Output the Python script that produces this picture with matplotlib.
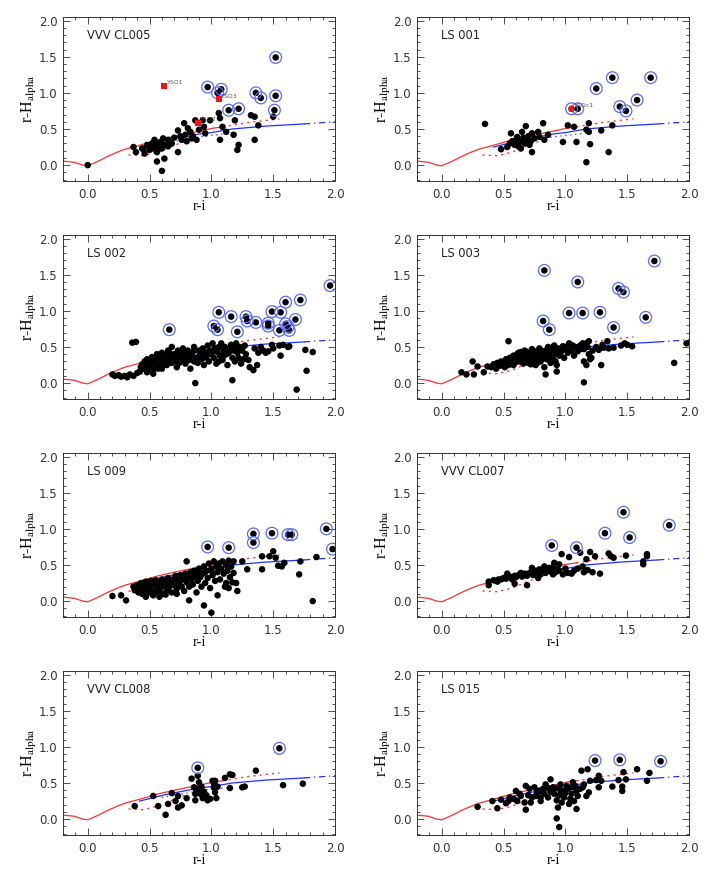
import matplotlib
matplotlib.use("Agg")
import matplotlib.pyplot as plt
from matplotlib.ticker import MultipleLocator

# ---------------- tracks ----------------
ms_x = [-0.2, -0.11, -0.04, 0.0, 0.08, 0.16, 0.24, 0.30, 0.41, 0.57, 0.73, 0.90, 1.01, 1.09]
ms_y = [0.055, 0.04, 0.0, -0.01, 0.05, 0.12, 0.18, 0.22, 0.27, 0.35, 0.41, 0.47, 0.51, 0.53]
ms_ext_x = [1.09, 1.30, 1.55]
ms_ext_y = [0.53, 0.59, 0.64]
red_low_x = [0.33, 0.45, 0.57, 0.68, 0.80]
red_low_y = [0.14, 0.13, 0.18, 0.26, 0.34]
blue_x = [0.42, 0.63, 0.90, 1.00, 1.17, 1.44, 1.75]
blue_y = [0.25, 0.34, 0.43, 0.45, 0.50, 0.54, 0.57]
blue_ext_x = [1.75, 2.0]
blue_ext_y = [0.57, 0.60]
blue_low_x = [0.60, 0.90, 1.20]
blue_low_y = [0.30, 0.39, 0.45]

# ---------------- panels ----------------
titles = ["VVV CL005", "LS 001", "LS 002", "LS 003", "LS 009", "VVV CL007", "VVV CL008", "LS 015"]

cl005_x = [0.0, 0.37, 0.39, 0.44, 0.46, 0.48, 0.50, 0.52, 0.53, 0.54, 0.56, 0.57, 0.59, 0.60, 0.61,
           0.56, 0.60, 0.62, 0.65, 0.68, 0.73, 0.73, 0.78, 0.79, 0.81, 0.83, 0.84, 0.87, 0.90, 0.93,
           0.94, 0.95, 0.99, 0.76, 1.06, 1.07, 1.07, 1.09, 1.12, 1.18, 1.19, 1.21, 1.22, 1.32, 1.35,
           1.35, 1.38, 1.50, 0.70, 0.75, 0.80, 0.85, 0.88, 0.62, 0.65, 0.55, 0.50, 0.45]
cl005_y = [0.0, 0.25, 0.18, 0.23, 0.16, 0.28, 0.21, 0.30, 0.23, 0.35, 0.18, 0.25, 0.32, 0.23, 0.37,
           0.05, -0.08, 0.09, 0.35, 0.30, 0.48, 0.18, 0.58, 0.42, 0.51, 0.46, 0.37, 0.62, 0.49, 0.62,
           0.53, 0.44, 0.62, 0.35, 0.72, 0.65, 0.35, 0.53, 0.46, 0.42, 0.62, 0.21, 0.28, 0.69, 0.67,
           0.35, 0.55, 0.67, 0.38, 0.40, 0.33, 0.40, 0.35, 0.28, 0.26, 0.30, 0.27, 0.22]
cl005_cx = [0.97, 1.05, 1.08, 1.14, 1.22, 1.36, 1.40, 1.52, 1.52, 1.51]
cl005_cy = [1.08, 1.00, 1.05, 0.76, 0.78, 1.00, 0.93, 1.49, 0.96, 0.76]
cl005_yso_x = [0.62, 1.06, 0.89]
cl005_yso_y = [1.10, 0.91, 0.58]
cl005_yso_lab = ["YSO1", "YSO3", "YSO2"]

ls001_x = [0.35, 0.48, 0.53, 0.56, 0.59, 0.61, 0.63, 0.64, 0.65, 0.68, 0.68, 0.71, 0.73, 0.73, 0.75,
           0.78, 0.79, 0.82, 0.83, 0.86, 0.98, 1.02, 1.07, 1.09, 1.17, 1.19, 1.19, 1.20, 1.17, 1.29,
           1.35, 1.38, 0.55, 0.60, 0.67, 0.70, 0.62, 0.72, 0.57, 0.66]
ls001_y = [0.57, 0.22, 0.25, 0.44, 0.28, 0.39, 0.32, 0.23, 0.46, 0.54, 0.35, 0.28, 0.44, 0.18, 0.37,
           0.46, 0.39, 0.58, 0.35, 0.42, 0.32, 0.55, 0.53, 0.32, 0.49, 0.58, 0.46, 0.29, 0.04, 0.48,
           0.18, 0.55, 0.30, 0.35, 0.30, 0.40, 0.26, 0.33, 0.33, 0.38]
ls001_cx = [1.05, 1.10, 1.25, 1.38, 1.69, 1.44, 1.49, 1.58]
ls001_cy = [0.78, 0.78, 1.06, 1.21, 1.21, 0.81, 0.75, 0.90]
ls001_yso_x = [1.05]
ls001_yso_y = [0.78]
ls001_yso_lab = ["YSOc1"]

ls002_x = [0.20, 0.22, 0.25, 0.27, 0.30, 0.32, 0.34, 0.37, 0.36, 0.39, 0.40, 0.42, 0.45, 0.46, 0.47,
           0.48, 0.50, 0.50, 0.52, 0.53, 0.54, 0.55, 0.56, 0.57, 0.58, 0.59, 0.60, 0.60, 0.61, 0.62,
           0.63, 0.64, 0.65, 0.66, 0.67, 0.68, 0.68, 0.70, 0.71, 0.72, 0.73, 0.74, 0.75, 0.76, 0.77,
           0.78, 0.79, 0.80, 0.81, 0.82, 0.83, 0.84, 0.85, 0.86, 0.87, 0.88, 0.89, 0.90, 0.91, 0.92,
           0.93, 0.94, 0.95, 0.96, 0.97, 0.98, 0.99, 1.00, 1.01, 1.02, 1.03, 1.04, 1.05, 1.06, 1.07,
           1.08, 1.09, 1.10, 1.11, 1.12, 1.13, 1.14, 1.17, 1.16, 1.17, 1.18, 1.19, 1.20, 1.21, 1.22,
           1.23, 1.24, 1.25, 1.27, 1.28, 1.30, 1.34, 1.37, 1.35, 1.38, 1.42, 1.44, 1.46, 1.50, 1.56,
           1.55, 1.58, 1.63, 1.69, 1.62, 1.76, 1.77, 1.82, 0.43, 0.44, 0.49, 0.51, 0.55, 0.58, 0.62,
           0.66, 0.70, 0.74, 0.78, 0.82, 0.86, 0.90, 0.94, 0.98, 1.02, 1.06, 1.10, 1.14, 1.18, 1.22,
           1.26, 0.57, 0.53, 0.48, 1.31, 1.40, 1.49]
ls002_y = [0.12, 0.10, 0.11, 0.09, 0.10, 0.08, 0.12, 0.10, 0.56, 0.57, 0.14, 0.16, 0.20, 0.30, 0.25,
           0.33, 0.22, 0.28, 0.36, 0.18, 0.27, 0.32, 0.40, 0.24, 0.30, 0.35, 0.20, 0.42, 0.28, 0.33,
           0.38, 0.25, 0.45, 0.30, 0.35, 0.28, 0.50, 0.40, 0.33, 0.22, 0.45, 0.37, 0.30, 0.42, 0.48,
           0.35, 0.27, 0.40, 0.45, 0.32, 0.20, 0.38, 0.43, 0.50, 0.00, 0.35, 0.28, 0.45, 0.40, 0.33,
           0.48, 0.25, 0.42, 0.37, 0.52, 0.30, 0.45, 0.40, 0.55, 0.35, 0.48, 0.27, 0.43, 0.50, 0.38,
           0.55, 0.32, 0.45, 0.50, 0.40, 0.25, 0.48, 0.04, 0.53, 0.35, 0.45, 0.30, 0.55, 0.42, 0.35,
           0.50, 0.27, 0.45, 0.52, 0.40, 0.32, 0.18, 0.25, 0.48, 0.42, 0.45, 0.42, 0.44, 0.48, 0.38,
           0.52, 0.53, 0.51, -0.09, 0.50, 0.46, 0.17, 0.43, 0.22, 0.26, 0.19, 0.31, 0.22, 0.38, 0.27,
           0.42, 0.30, 0.28, 0.43, 0.38, 0.30, 0.37, 0.35, 0.44, 0.45, 0.30, 0.38, 0.42, 0.52, 0.48,
           0.33, 0.20, 0.13, 0.15, 0.22, 0.50, 0.53]
ls002_cx = [0.66, 1.02, 1.05, 1.06, 1.16, 1.21, 1.28, 1.29, 1.36, 1.46, 1.46, 1.49, 1.56, 1.60, 1.55,
            1.60, 1.62, 1.63, 1.68, 1.72, 1.96]
ls002_cy = [0.74, 0.79, 0.74, 0.98, 0.92, 0.71, 0.92, 0.86, 0.84, 0.83, 0.79, 0.99, 0.98, 1.12, 0.73,
            0.82, 0.78, 0.73, 0.88, 1.15, 1.35]

ls003_x = [0.16, 0.20, 0.25, 0.26, 0.29, 0.34, 0.37, 0.54, 0.84, 0.93, 1.15, 1.15, 1.17, 1.29, 1.21,
           1.31, 1.34, 1.39, 1.54, 1.50, 1.88, 1.98, 1.14, 1.19, 1.03, 0.98,
           0.40, 0.42, 0.44, 0.45, 0.47, 0.48, 0.50, 0.51, 0.52, 0.53, 0.54, 0.55, 0.56, 0.57, 0.58,
           0.59, 0.60, 0.61, 0.62, 0.63, 0.64, 0.65, 0.66, 0.67, 0.68, 0.69, 0.70, 0.71, 0.72, 0.73,
           0.74, 0.75, 0.76, 0.77, 0.78, 0.79, 0.80, 0.81, 0.82, 0.83, 0.84, 0.85, 0.86, 0.87, 0.88,
           0.89, 0.90, 0.91, 0.92, 0.93, 0.94, 0.95, 0.97, 0.99, 1.00, 1.02, 1.04, 1.05, 1.07, 1.08,
           1.10, 1.12, 1.15, 1.17, 1.19, 1.20, 1.22, 1.25, 1.27, 1.30, 1.35, 1.45, 1.48, 0.78, 0.72,
           0.66, 0.58, 0.55, 0.63, 0.69, 0.75, 0.81, 0.87, 0.92, 0.96, 1.01, 1.06, 1.13, 1.18, 0.62,
           0.68, 0.74, 0.80, 0.84, 0.90, 0.98]
ls003_y = [0.15, 0.12, 0.30, 0.12, 0.23, 0.15, 0.23, 0.58, 0.12, 0.16, 0.01, 0.30, 0.25, 0.25, 0.35,
           0.49, 0.58, 0.49, 0.51, 0.53, 0.28, 0.55, 0.55, 0.58, 0.55, 0.51,
           0.22, 0.26, 0.20, 0.28, 0.24, 0.30, 0.27, 0.22, 0.33, 0.29, 0.25, 0.35, 0.31, 0.27, 0.38,
           0.33, 0.29, 0.40, 0.35, 0.30, 0.43, 0.37, 0.32, 0.45, 0.39, 0.34, 0.28, 0.42, 0.36, 0.47,
           0.31, 0.40, 0.25, 0.44, 0.36, 0.48, 0.30, 0.42, 0.38, 0.22, 0.45, 0.33, 0.50, 0.40, 0.28,
           0.46, 0.36, 0.52, 0.42, 0.25, 0.48, 0.38, 0.45, 0.35, 0.50, 0.42, 0.53, 0.45, 0.38, 0.50,
           0.44, 0.52, 0.47, 0.55, 0.40, 0.33, 0.45, 0.50, 0.46, 0.53, 0.48, 0.52, 0.55, 0.29, 0.26,
           0.27, 0.25, 0.30, 0.36, 0.40, 0.33, 0.33, 0.34, 0.30, 0.42, 0.47, 0.52, 0.48, 0.50, 0.42,
           0.44, 0.42, 0.45, 0.40, 0.50, 0.46]
ls003_cx = [0.83, 1.10, 1.72, 1.43, 1.47, 1.03, 1.14, 1.28, 0.82, 0.87, 1.39, 1.65]
ls003_cy = [1.56, 1.40, 1.69, 1.31, 1.26, 0.97, 0.97, 0.98, 0.86, 0.74, 0.77, 0.91]

ls009_x = [0.20, 0.27, 0.31, 0.82, 0.94, 1.00, 1.05, 1.82, 1.85, 1.71, 1.72, 1.50, 1.47, 1.41, 1.41,
           1.52, 1.54, 1.57, 1.59, 1.29, 1.25, 1.18, 1.20, 1.21, 1.12, 1.14, 0.80,
           0.37, 0.38, 0.40, 0.41, 0.42, 0.43, 0.44, 0.45, 0.46, 0.47, 0.48, 0.49, 0.50, 0.51, 0.52,
           0.53, 0.54, 0.55, 0.56, 0.57, 0.58, 0.59, 0.60, 0.61, 0.62, 0.63, 0.64, 0.65, 0.66, 0.67,
           0.68, 0.69, 0.70, 0.71, 0.72, 0.73, 0.74, 0.75, 0.76, 0.77, 0.78, 0.79, 0.80, 0.81, 0.82,
           0.83, 0.84, 0.85, 0.86, 0.87, 0.88, 0.89, 0.90, 0.91, 0.92, 0.93, 0.94, 0.95, 0.96, 0.97,
           0.98, 0.99, 1.00, 1.01, 1.02, 1.03, 1.04, 1.05, 1.06, 1.07, 1.08, 1.09, 1.10, 1.11, 1.12,
           1.13, 1.14, 1.15, 1.16, 1.17, 1.18, 0.45, 0.50, 0.55, 0.60, 0.65, 0.70, 0.75, 0.80, 0.85,
           0.90, 0.95, 1.00, 0.53, 0.58, 0.63, 0.72, 0.47]
ls009_y = [0.07, 0.08, 0.01, 0.01, -0.06, -0.16, 0.08, 0.00, 0.61, 0.37, 0.55, 0.69, 0.62, 0.62, 0.44,
           0.60, 0.49, 0.48, 0.53, 0.44, 0.55, 0.39, 0.25, 0.14, 0.25, 0.18, 0.55,
           0.20, 0.15, 0.22, 0.12, 0.18, 0.25, 0.10, 0.20, 0.15, 0.27, 0.12, 0.22, 0.17, 0.28, 0.10,
           0.23, 0.15, 0.29, 0.20, 0.12, 0.25, 0.18, 0.30, 0.10, 0.22, 0.27, 0.15, 0.32, 0.20, 0.26,
           0.12, 0.30, 0.22, 0.35, 0.17, 0.28, 0.24, 0.36, 0.20, 0.30, 0.14, 0.38, 0.26, 0.33, 0.20,
           0.40, 0.30, 0.23, 0.42, 0.35, 0.12, 0.28, 0.45, 0.33, 0.20, 0.38, 0.48, 0.25, 0.42, 0.32,
           0.52, 0.18, 0.45, 0.36, 0.55, 0.28, 0.48, 0.40, 0.52, 0.30, 0.45, 0.55, 0.38, 0.20, 0.50,
           0.42, 0.56, 0.33, 0.48, 0.26, 0.55, 0.25, 0.25, 0.24, 0.26, 0.25, 0.29, 0.30, 0.33, 0.35,
           0.38, 0.40, 0.42, 0.08, 0.06, 0.09, 0.10, 0.06]
ls009_cx = [0.97, 1.14, 1.34, 1.34, 1.49, 1.62, 1.65, 1.93, 1.98]
ls009_cy = [0.75, 0.74, 0.93, 0.81, 0.94, 0.92, 0.92, 1.00, 0.72]

cl007_x = [0.38, 0.38, 0.42, 0.46, 0.50, 0.53, 0.59, 0.59, 0.64, 0.69, 0.69, 0.73, 0.75, 0.78, 0.79,
           0.83, 0.84, 0.87, 0.90, 0.91, 0.94, 0.95, 0.97, 0.98, 1.02, 1.03, 1.07, 1.12, 1.14, 1.17,
           1.18, 1.20, 1.24, 1.22, 1.28, 1.35, 1.37, 1.39, 1.49, 1.63, 1.63, 1.66, 1.66,
           0.45, 0.48, 0.52, 0.55, 0.57, 0.60, 0.62, 0.65, 0.67, 0.70, 0.72, 0.74, 0.76, 0.78, 0.80,
           0.82, 0.85, 0.88, 0.90, 0.92, 0.95, 1.00, 1.05, 1.10, 1.15]
cl007_y = [0.22, 0.27, 0.29, 0.30, 0.32, 0.38, 0.35, 0.24, 0.39, 0.22, 0.35, 0.46, 0.39, 0.32, 0.44,
           0.48, 0.39, 0.46, 0.37, 0.53, 0.44, 0.51, 0.65, 0.37, 0.39, 0.61, 0.42, 0.67, 0.48, 0.58,
           0.43, 0.68, 0.62, 0.40, 0.38, 0.66, 0.62, 0.60, 0.63, 0.51, 0.55, 0.65, 0.62,
           0.27, 0.30, 0.31, 0.34, 0.30, 0.33, 0.36, 0.34, 0.38, 0.38, 0.40, 0.36, 0.42, 0.40, 0.37,
           0.42, 0.44, 0.41, 0.47, 0.40, 0.42, 0.45, 0.38, 0.45, 0.40]
cl007_cx = [0.89, 1.09, 1.32, 1.47, 1.52, 1.84]
cl007_cy = [0.77, 0.74, 0.94, 1.23, 0.88, 1.05]

cl008_x = [0.38, 0.53, 0.57, 0.63, 0.65, 0.68, 0.71, 0.73, 0.73, 0.76, 0.80, 0.84, 0.86, 0.87, 0.87,
           0.89, 0.90, 0.90, 0.91, 0.93, 0.94, 0.95, 0.97, 1.01, 1.02, 1.03, 1.03, 1.04, 1.05, 1.11,
           1.15, 1.17, 1.15, 1.25, 1.27, 1.36, 1.58, 1.74, 0.88, 0.92, 0.96, 0.99, 1.02]
cl008_y = [0.18, 0.32, 0.18, 0.06, 0.21, 0.36, 0.25, 0.32, 0.16, 0.19, 0.29, 0.56, 0.44, 0.35, 0.26,
           0.60, 0.51, 0.42, 0.35, 0.29, 0.38, 0.32, 0.26, 0.53, 0.44, 0.53, 0.37, 0.29, 0.45, 0.57,
           0.62, 0.61, 0.43, 0.44, 0.45, 0.67, 0.47, 0.49, 0.40, 0.45, 0.33, 0.28, 0.50]
cl008_cx = [0.89, 1.55]
cl008_cy = [0.71, 0.98]

ls015_x = [0.29, 0.41, 0.45, 0.48, 0.52, 0.54, 0.60, 0.61, 0.64, 0.67, 0.68, 0.68, 0.71, 0.72, 0.75,
           0.76, 0.79, 0.80, 0.83, 0.84, 0.88, 0.90, 0.91, 0.93, 0.94, 0.93, 0.95, 0.97, 0.98, 0.99,
           1.01, 1.03, 1.05, 1.06, 1.07, 1.09, 1.09, 1.13, 1.14, 1.17, 1.18, 1.19, 1.20, 1.25, 1.27,
           1.29, 1.27, 1.38, 1.43, 1.47, 1.46, 1.46, 1.49, 1.58, 1.66, 1.68,
           0.55, 0.58, 0.63, 0.70, 0.73, 0.77, 0.82, 0.86, 0.88, 0.92, 0.95, 0.96, 1.00, 1.02, 1.04,
           1.08, 1.10, 1.12, 1.15, 0.86, 0.80, 0.96, 1.05]
ls015_y = [0.17, 0.25, 0.15, 0.27, 0.22, 0.25, 0.39, 0.25, 0.32, 0.23, 0.46, 0.13, 0.42, 0.23, 0.44,
           0.32, 0.39, 0.25, 0.35, 0.48, 0.55, 0.44, 0.35, 0.26, 0.16, 0.01, -0.11, 0.23, 0.39, 0.30,
           0.46, 0.21, 0.35, 0.51, 0.25, 0.39, 0.14, 0.67, 0.44, 0.32, 0.69, 0.37, 0.53, 0.54, 0.60,
           0.53, 0.44, 0.45, 0.54, 0.65, 0.45, 0.39, 0.55, 0.69, 0.53, 0.64,
           0.30, 0.28, 0.35, 0.33, 0.30, 0.37, 0.42, 0.30, 0.38, 0.43, 0.33, 0.40, 0.36, 0.42, 0.28,
           0.46, 0.32, 0.42, 0.48, 0.43, 0.30, 0.48, 0.44]
ls015_cx = [1.24, 1.44, 1.77]
ls015_cy = [0.81, 0.82, 0.80]

panels = [
    (cl005_x, cl005_y, cl005_cx, cl005_cy, (cl005_yso_x, cl005_yso_y, cl005_yso_lab)),
    (ls001_x, ls001_y, ls001_cx, ls001_cy, (ls001_yso_x, ls001_yso_y, ls001_yso_lab)),
    (ls002_x, ls002_y, ls002_cx, ls002_cy, None),
    (ls003_x, ls003_y, ls003_cx, ls003_cy, None),
    (ls009_x, ls009_y, ls009_cx, ls009_cy, None),
    (cl007_x, cl007_y, cl007_cx, cl007_cy, None),
    (cl008_x, cl008_y, cl008_cx, cl008_cy, None),
    (ls015_x, ls015_y, ls015_cx, ls015_cy, None),
]

plt.rcParams['font.family'] = ['DejaVu Sans']
plt.rcParams['mathtext.fontset'] = 'stix'

fig = plt.figure(figsize=(7.08, 8.72), dpi=100)
W, H = 708.0, 872.0
lefts = [63, 417]
tops = [17, 235, 453, 671]
aw, ah = 272, 164

for i, (px, py, cx, cy, yso) in enumerate(panels):
    r, c = divmod(i, 2)
    ax = fig.add_axes([lefts[c] / W, 1 - (tops[r] + ah) / H, aw / W, ah / H])
    ax.set_xlim(-0.2, 2.0)
    ax.set_ylim(-0.22, 2.05)

    ax.plot(ms_x, ms_y, color='#ff3030', lw=0.9, zorder=2)
    ax.plot(ms_ext_x, ms_ext_y, color='#ff3030', lw=1.0, ls=(0, (1.5, 3)), zorder=2)
    ax.plot(red_low_x, red_low_y, color='#ff3030', lw=1.0, ls=(0, (1.5, 3)), zorder=2)
    ax.plot(blue_x, blue_y, color='#2030ff', lw=0.9, zorder=2)
    ax.plot(blue_ext_x, blue_ext_y, color='#2030ff', lw=0.9, ls=(0, (5, 3, 1, 3)), zorder=2)
    ax.plot(blue_low_x, blue_low_y, color='#2030ff', lw=0.9, ls=(0, (1, 3)), zorder=2)

    ax.scatter(px, py, s=22, color='black', edgecolors='none', zorder=3)
    ax.scatter(cx, cy, s=22, color='black', edgecolors='none', zorder=3)
    ax.scatter(cx, cy, s=72, facecolors='none', edgecolors='#5a6aff', linewidths=0.9, zorder=4)
    if yso is not None:
        yx, yy, yl = yso
        ax.scatter(yx, yy, s=18, marker='s', color='#ff1010', edgecolors='none', zorder=5)
        for xx, yv, lab in zip(yx, yy, yl):
            ax.text(xx + 0.02, yv + 0.01, lab, fontsize=4.5, color='#555555', va='bottom', ha='left', zorder=5)

    ax.text(0.09, 0.885, titles[i], transform=ax.transAxes, fontsize=8.3, color='#222222', va='center')

    ax.xaxis.set_major_locator(MultipleLocator(0.5))
    ax.xaxis.set_minor_locator(MultipleLocator(0.1))
    ax.yaxis.set_major_locator(MultipleLocator(0.5))
    ax.yaxis.set_minor_locator(MultipleLocator(0.1))
    ax.tick_params(which='both', direction='in', top=True, right=True, colors='#333333',
                   labelcolor='#333333', labelsize=8.5, width=0.6)
    ax.tick_params(which='major', length=5)
    ax.tick_params(which='minor', length=2.5)
    ax.tick_params(axis='x', pad=5)
    ax.tick_params(axis='y', pad=4)
    for sp in ax.spines.values():
        sp.set_linewidth(0.7)
        sp.set_color('#333333')
    ax.set_xlabel('r-i', family='Liberation Serif', fontsize=10.5, labelpad=-1)
    ax.set_ylabel(r'r-H$_{\mathrm{alpha}}$', family='Liberation Serif', fontsize=11.5, labelpad=0)

fig.savefig('out.png', dpi=100)
